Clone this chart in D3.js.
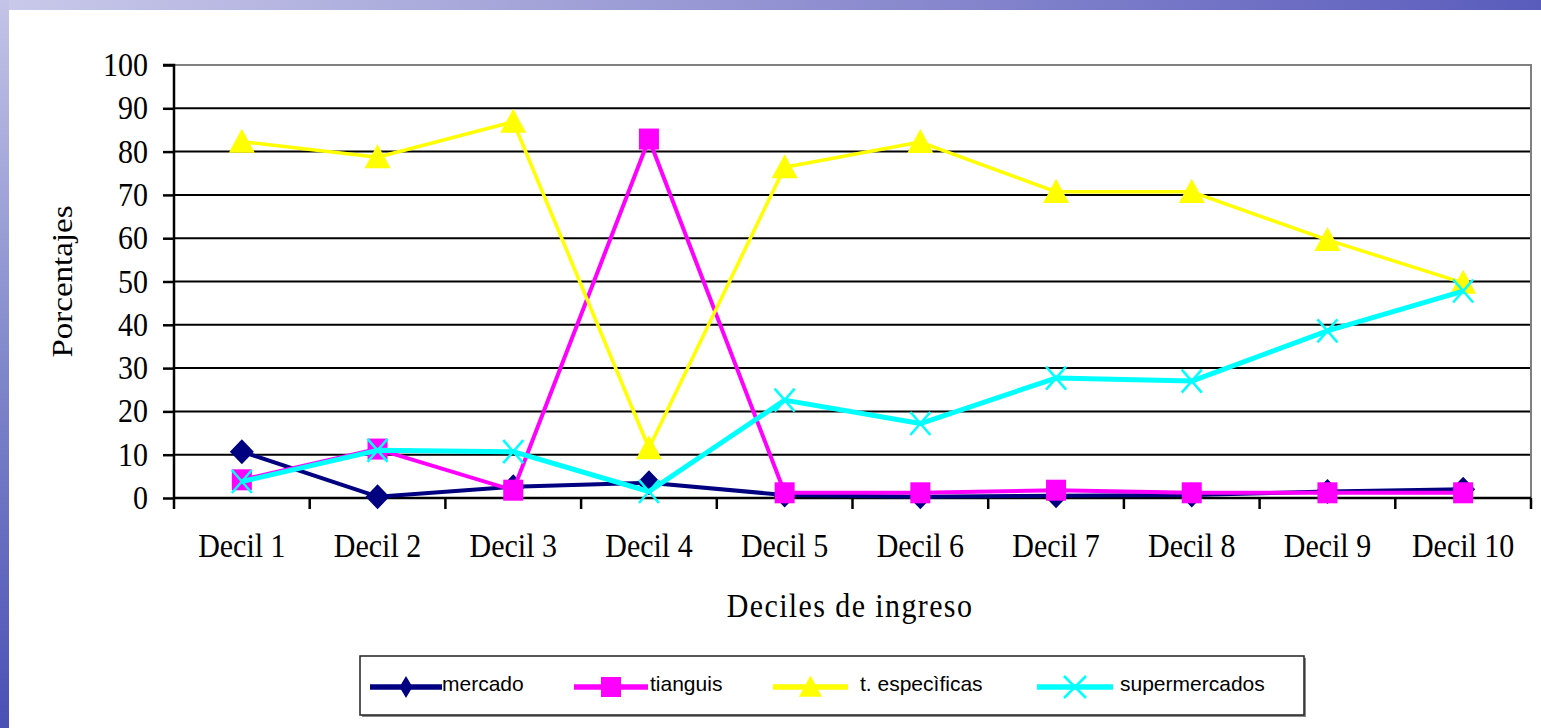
<!DOCTYPE html>
<html>
<head>
<meta charset="utf-8">
<script src="https://cdn.jsdelivr.net/npm/d3@7"></script>
<style>
  html, body { margin: 0; padding: 0; background: #fff; }
  svg { display: block; }
</style>
</head>
<body>
<svg id="chart" width="1541" height="728"></svg>
<script>
// Income deciles and the share (%) of purchases by place of purchase
const categories = ["Decil 1", "Decil 2", "Decil 3", "Decil 4", "Decil 5",
                    "Decil 6", "Decil 7", "Decil 8", "Decil 9", "Decil 10"];
const mercado       = [10.7, 0.3, 2.6, 3.5, 0.7, 0.3, 0.5, 0.7, 1.5, 2.0];
const tianguis      = [4.2, 11.3, 1.8, 82.9, 1.2, 1.2, 1.8, 1.2, 1.2, 1.2];
const especificas   = [82.3, 78.7, 86.9, 11.5, 76.4, 82.2, 70.7, 70.7, 59.6, 49.7];
const supermercados = [3.8, 11.0, 10.7, 1.5, 22.6, 17.2, 27.7, 27.0, 38.6, 47.8];
const yTicks = [0, 10, 20, 30, 40, 50, 60, 70, 80, 90, 100];
const seriesNames = ["mercado", "tianguis", "t. especìficas", "supermercados"];

const series = [
  { name: seriesNames[0], values: mercado,       color: "#000080", width: 4,   marker: "diamond" },
  { name: seriesNames[1], values: tianguis,      color: "#ff00ff", width: 4,   marker: "square" },
  { name: seriesNames[2], values: especificas,   color: "#ffff00", width: 3.5, marker: "triangle" },
  { name: seriesNames[3], values: supermercados, color: "#00ffff", width: 5,   marker: "x" }
];

const SERIF = "'Liberation Serif', 'Times New Roman', serif";
const SANS = "'Liberation Sans', Arial, sans-serif";
const STRETCH = 1.1; // glyphs are drawn slightly taller than wide

const svg = d3.select("#chart");
const W = 1541, H = 728;

// slide background: blue frame along the top and left edges
const defs = svg.append("defs");
const gTop = defs.append("linearGradient").attr("id", "bgTop").attr("x1", 0).attr("x2", 1).attr("y1", 0).attr("y2", 0);
gTop.append("stop").attr("offset", 0).attr("stop-color", "#c9c9ea");
gTop.append("stop").attr("offset", 0.35).attr("stop-color", "#a3a3d8");
gTop.append("stop").attr("offset", 1).attr("stop-color", "#5a5cbc");
const gLeft = defs.append("linearGradient").attr("id", "bgLeft").attr("x1", 0).attr("x2", 0).attr("y1", 0).attr("y2", 1);
gLeft.append("stop").attr("offset", 0).attr("stop-color", "#c4c4e8");
gLeft.append("stop").attr("offset", 0.5).attr("stop-color", "#8088cc");
gLeft.append("stop").attr("offset", 1).attr("stop-color", "#4a50b4");
svg.append("rect").attr("x", 0).attr("y", 0).attr("width", W).attr("height", H).attr("fill", "#fff");
svg.append("rect").attr("x", 0).attr("y", 0).attr("width", W).attr("height", 10).attr("fill", "url(#bgTop)");
svg.append("rect").attr("x", 0).attr("y", 0).attr("width", 9).attr("height", H).attr("fill", "url(#bgLeft)");

// plot area
const plot = { left: 174, right: 1531, top: 65, bottom: 498 };
const x = d3.scaleBand().domain(categories).range([plot.left, plot.right]).padding(0);
const y = d3.scaleLinear().domain([0, 100]).range([plot.bottom, plot.top]);
const cx = c => x(c) + x.bandwidth() / 2;

// horizontal gridlines
const grid = svg.append("g");
yTicks.filter(t => t > 0).forEach(t => {
  grid.append("line")
    .attr("x1", plot.left).attr("x2", plot.right)
    .attr("y1", y(t)).attr("y2", y(t))
    .attr("stroke", t === 100 ? "#808080" : "#000")
    .attr("stroke-width", 2);
});
// right border of plot area
svg.append("line")
  .attr("x1", plot.right).attr("x2", plot.right)
  .attr("y1", plot.top - 1).attr("y2", plot.bottom)
  .attr("stroke", "#808080").attr("stroke-width", 2);

// y axis
const yAxis = d3.axisLeft(y).tickValues(yTicks).tickSize(11).tickPadding(15);
const gy = svg.append("g").attr("transform", `translate(${plot.left},0)`).call(yAxis);
gy.select(".domain").attr("stroke", "#000").attr("stroke-width", 2.5)
  .attr("d", `M-11,${plot.top}H0V${plot.bottom}`);
gy.selectAll(".tick line").attr("stroke", "#000").attr("stroke-width", 2.5);
gy.selectAll(".tick text")
  .attr("fill", "#000")
  .attr("font-family", SERIF)
  .attr("font-size", 30)
  .attr("transform", `scale(1,${STRETCH})`);

// x axis line with ticks at category boundaries
const gx = svg.append("g");
gx.append("line")
  .attr("x1", plot.left).attr("x2", plot.right)
  .attr("y1", plot.bottom).attr("y2", plot.bottom)
  .attr("stroke", "#000").attr("stroke-width", 2.5);
categories.concat([null]).forEach(c => {
  const xx = c === null ? plot.right : x(c);
  gx.append("line")
    .attr("x1", xx).attr("x2", xx)
    .attr("y1", plot.bottom).attr("y2", plot.bottom + 11)
    .attr("stroke", "#000").attr("stroke-width", 2.5);
});
gx.selectAll("text.cat").data(categories).join("text")
  .attr("class", "cat")
  .attr("transform", d => `translate(${cx(d)},557) scale(1,${STRETCH})`)
  .attr("text-anchor", "middle")
  .attr("font-family", SERIF)
  .attr("font-size", 30)
  .text(d => d);

// axis titles
svg.append("text")
  .attr("transform", `translate(850,617) scale(1,${STRETCH})`)
  .attr("text-anchor", "middle")
  .attr("font-family", SERIF)
  .attr("font-size", 30)
  .attr("letter-spacing", 1.4)
  .text("Deciles de ingreso");
svg.append("text")
  .attr("transform", `translate(72,${(plot.top + plot.bottom) / 2}) scale(1,${STRETCH}) rotate(-90)`)
  .attr("text-anchor", "middle")
  .attr("font-family", SERIF)
  .attr("font-size", 30)
  .text("Porcentajes");

// marker shapes
function drawMarker(g, type, px, py, color, rx, ry) {
  if (type === "diamond") {
    g.append("path").attr("d", `M${px},${py - ry}L${px + rx},${py}L${px},${py + ry}L${px - rx},${py}Z`).attr("fill", color);
  } else if (type === "square") {
    g.append("rect").attr("x", px - rx).attr("y", py - ry).attr("width", 2 * rx).attr("height", 2 * ry).attr("fill", color);
  } else if (type === "triangle") {
    g.append("path").attr("d", `M${px},${py - ry}L${px + rx},${py + ry * 0.85}L${px - rx},${py + ry * 0.85}Z`).attr("fill", color);
  } else if (type === "x") {
    g.append("path").attr("d", `M${px - rx},${py - ry}L${px + rx},${py + ry}M${px + rx},${py - ry}L${px - rx},${py + ry}`)
      .attr("stroke", color).attr("stroke-width", 2.5).attr("fill", "none");
  }
}
const plotMarkerSize = { diamond: [12, 12.5], square: [10, 10.5], triangle: [13, 13], x: [10, 11.5] };
const legendMarkerSize = { diamond: [6.5, 11], square: [10, 10], triangle: [11.5, 11.5], x: [11, 11] };

// series lines and markers
const line = d3.line().x((d, i) => cx(categories[i])).y(d => y(d));
series.forEach(s => {
  const g = svg.append("g");
  g.append("path").datum(s.values)
    .attr("d", line)
    .attr("fill", "none")
    .attr("stroke", s.color)
    .attr("stroke-width", s.width)
    .attr("stroke-linejoin", "round");
  const [rx, ry] = plotMarkerSize[s.marker];
  s.values.forEach((v, i) => drawMarker(g, s.marker, cx(categories[i]), y(v), s.color, rx, ry));
});

// legend
const lg = svg.append("g");
lg.append("rect").attr("x", 362).attr("y", 658).attr("width", 944).attr("height", 59).attr("fill", "#8a8a8a");
lg.append("rect").attr("x", 360).attr("y", 656).attr("width", 944).attr("height", 59)
  .attr("fill", "#fff").attr("stroke", "#222").attr("stroke-width", 1.5);
const legendLine = [[370, 442], [574, 648], [773, 848], [1037, 1113]];
const legendText = [442, 650, 860, 1120];
series.forEach((s, i) => {
  const [x0, x1] = legendLine[i], ly = 687;
  lg.append("line").attr("x1", x0).attr("x2", x1).attr("y1", ly).attr("y2", ly)
    .attr("stroke", s.color).attr("stroke-width", 5.5);
  const [rx, ry] = legendMarkerSize[s.marker];
  drawMarker(lg, s.marker, (x0 + x1) / 2, ly, s.color, rx, ry);
  lg.append("text")
    .attr("x", legendText[i]).attr("y", 691)
    .attr("font-family", SANS)
    .attr("font-size", 21)
    .attr("fill", "#000")
    .text(s.name);
});
</script>
</body>
</html>
